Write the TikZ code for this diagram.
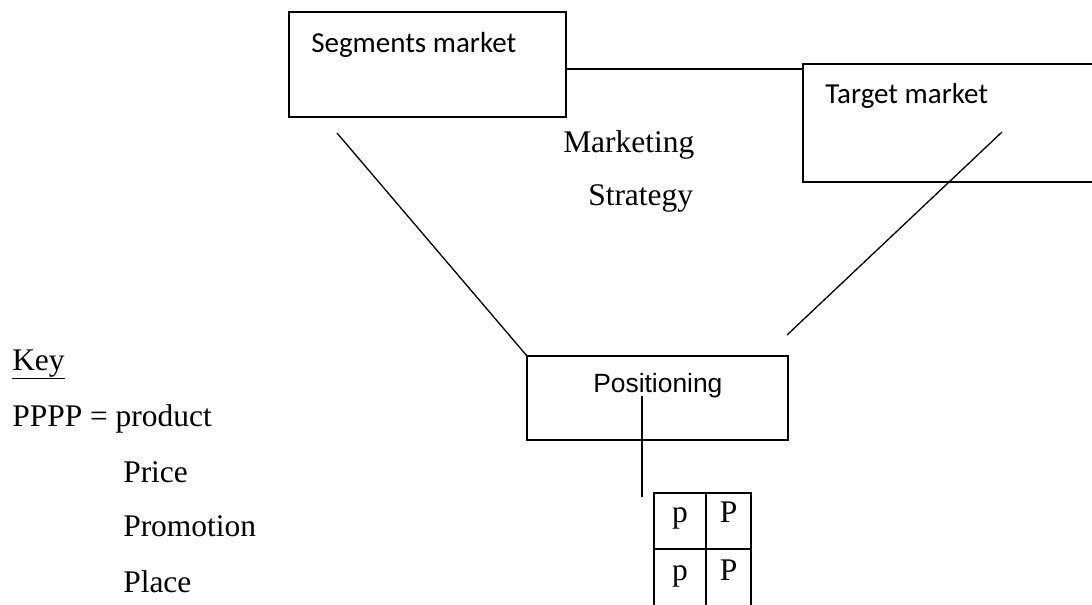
\documentclass[tikz,border=0pt]{standalone}
\usepackage{fontspec}
\setmainfont{Liberation Serif}
\newfontfamily\calibrifont{Carlito}
\newfontfamily\arialfont{Liberation Sans}
\usetikzlibrary{positioning}

\begin{document}
\begin{tikzpicture}[x=0.75pt, y=-0.75pt, auto]

\tikzstyle{box} = [rectangle, draw=black, line width=1.2pt, inner sep=0pt, outer sep=0pt]
\tikzstyle{boxtext} = [font=\calibrifont\fontsize{21.75}{26}\selectfont, anchor=base west, inner sep=0pt]
\tikzstyle{postext} = [font=\arialfont\fontsize{19.8}{24}\selectfont, anchor=base west, inner sep=0pt]
\tikzstyle{word} = [font=\fontsize{23.6}{28}\selectfont, anchor=base west, inner sep=0pt]
\tikzstyle{cell} = [rectangle, draw=black, line width=1.5pt, inner sep=0pt, outer sep=0pt, minimum height=42pt, text height=8pt, text depth=6.5pt, font=\fontsize{23.6}{28}\selectfont]
\tikzstyle{line} = [line width=1pt]

\useasboundingbox (0,0) rectangle (1092,604);

\node (seg) [box, minimum width=207.75pt, minimum height=78.75pt] at (427.5,64.5) {};
\node (segtext) [boxtext] at (311,52) {Segments market};
\node (tgt) [box, minimum width=232.5pt, minimum height=88.5pt] at (958,123) {};
\node (tgttext) [boxtext] at (825,103) {Target market};
\node (mkt) [word] at (563,152) {Marketing};
\node (strat) [word] at (588,205) {Strategy};
\node (pos) [box, minimum width=195.75pt, minimum height=63pt] at (657.5,398) {};
\node (postext) [postext] at (593,392) {Positioning};

% table, bottom row runs off the page
\node (c11) [cell, minimum width=39pt] at (680,521) {p};
\node (c12) [cell, minimum width=33.75pt, right=0pt of c11] {P};
\node (c21) [cell, minimum width=39pt, minimum height=45pt, below=0pt of c11] {p};
\node (c22) [cell, minimum width=33.75pt, minimum height=45pt, right=0pt of c21] {P};

\node (key) [word] at (12,370) {\underline{Key}};
\node (k1) [word] at (12,426) {PPPP = product};
\node (k2) [word] at (123,482) {Price};
\node (k3) [word] at (123,536) {Promotion};
\node (k4) [word] at (123,592) {Place};

\coordinate (segfoot) at (337,133);
\coordinate (tgtfoot) at (1002,132);
\coordinate (posnear) at (787,335);
\coordinate (postop) at (642,396);
\coordinate (tabnear) at (642,497);

\draw [line] ([yshift=-3.4pt]seg.east) coordinate (link) -- (link -| tgt.west);
\draw [line] (segfoot) -- (pos.north west);
\draw [line] (tgtfoot) -- (posnear);
\draw [line] (postop) -- (tabnear);
\end{tikzpicture}
\end{document}
